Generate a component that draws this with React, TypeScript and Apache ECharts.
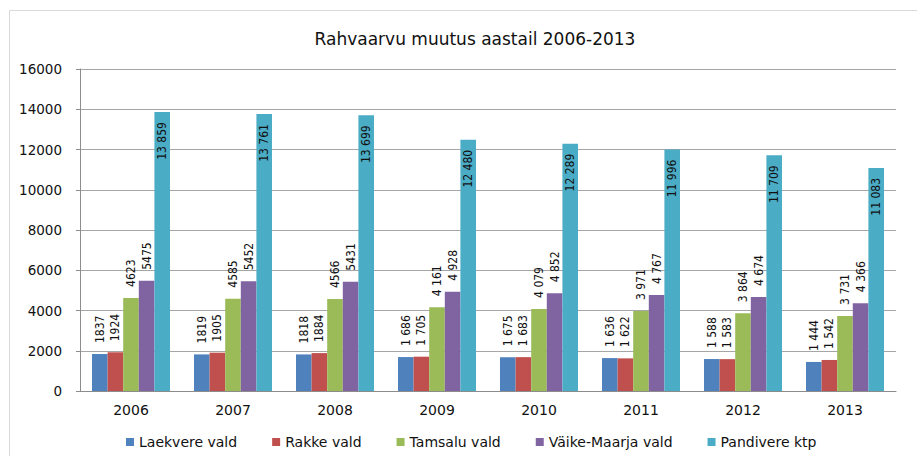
import React, { useEffect, useRef } from "react";
import * as echarts from "echarts";

const years = ["2006", "2007", "2008", "2009", "2010", "2011", "2012", "2013"];
const laekvere = [1837, 1819, 1818, 1686, 1675, 1636, 1588, 1444];
const rakke = [1924, 1905, 1884, 1705, 1683, 1622, 1583, 1542];
const tamsalu = [4623, 4585, 4566, 4161, 4079, 3971, 3864, 3731];
const vaikeMaarja = [5475, 5452, 5431, 4928, 4852, 4767, 4674, 4366];
const pandivere = [13859, 13761, 13699, 12480, 12289, 11996, 11709, 11083];
const yTicks = [0, 2000, 4000, 6000, 8000, 10000, 12000, 14000, 16000];

const seriesNames = ["Laekvere vald", "Rakke vald", "Tamsalu vald", "Väike-Maarja vald", "Pandivere ktp"];
const seriesData = [laekvere, rakke, tamsalu, vaikeMaarja, pandivere];
const colors = ["#4f81bd", "#c0504d", "#9bbb59", "#8064a2", "#4bacc6"];

const LABEL_FONT = "'DejaVu Sans Condensed', 'Liberation Sans Narrow', 'Liberation Sans', sans-serif";
const AXIS_FONT = "'DejaVu Sans', 'Noto Sans', sans-serif";

function fmt(v: number, idx: number): string {
  if (idx < 3 && v < 10000) return String(v);
  return String(v).replace(/\B(?=(\d{3})+(?!\d))/g, " ");
}

export default function App() {
  const ref = useRef<HTMLDivElement>(null);
  useEffect(() => {
    document.body.style.margin = "0";
    if (!ref.current) return;
    const chart = echarts.init(ref.current, undefined, { renderer: "svg" });
    const series = seriesNames.map((name, i) => {
      const isLast = i === seriesNames.length - 1;
      return {
        name,
        type: "bar",
        data: seriesData[i],
        itemStyle: { color: colors[i] },
        barGap: "0%",
        barCategoryGap: "23.5%",
        label: {
          show: true,
          position: isLast ? "insideTop" : "top",
          rotate: 90,
          align: isLast ? "right" : "left",
          verticalAlign: "middle",
          distance: isLast ? 10 : 11,
          fontFamily: LABEL_FONT,
          fontSize: 12,
          color: "#111",
          formatter: (p: any) => fmt(p.value, p.dataIndex),
        },
      };
    });
    chart.setOption({
      animation: false,
      backgroundColor: "#ffffff",
      color: colors,
      title: {
        text: "Rahvaarvu muutus aastail 2006-2013",
        left: 470,
        textAlign: "center",
        top: 25,
        textStyle: { fontFamily: AXIS_FONT, fontSize: 17, fontWeight: "normal", color: "#111" },
      },
      graphic: [
        {
          type: "rect",
          shape: { x: 9.5, y: 10.5, width: 1000, height: 1000 },
          style: { fill: "none", stroke: "#d9d9d9", lineWidth: 1 },
          silent: true,
        },
      ],
      legend: {
        data: seriesNames,
        left: 121,
        top: 430,
        itemWidth: 8,
        itemHeight: 8,
        itemGap: 35,
        icon: "rect",
        textStyle: { fontFamily: AXIS_FONT, fontSize: 14, color: "#111" },
      },
      grid: { left: 80, right: 21, top: 69, bottom: 65, containLabel: false },
      xAxis: {
        type: "category",
        data: years,
        axisLine: { lineStyle: { color: "#8c8c8c" } },
        axisTick: { show: false },
        axisLabel: { margin: 12, fontFamily: AXIS_FONT, fontSize: 14, color: "#111" },
      },
      yAxis: {
        type: "value",
        min: yTicks[0],
        max: yTicks[yTicks.length - 1],
        interval: yTicks[1] - yTicks[0],
        axisLine: { show: true, lineStyle: { color: "#8c8c8c" } },
        axisTick: { show: true, length: 4, lineStyle: { color: "#8c8c8c" } },
        axisLabel: {
          margin: 18,
          fontFamily: AXIS_FONT,
          fontSize: 13.5,
          color: "#111",
          formatter: (v: number) => String(v),
        },
        splitLine: { lineStyle: { color: "#a6a6a6" } },
      },
      series,
    });
    return () => chart.dispose();
  }, []);
  return <div ref={ref} style={{ width: 917, height: 456 }} />;
}
